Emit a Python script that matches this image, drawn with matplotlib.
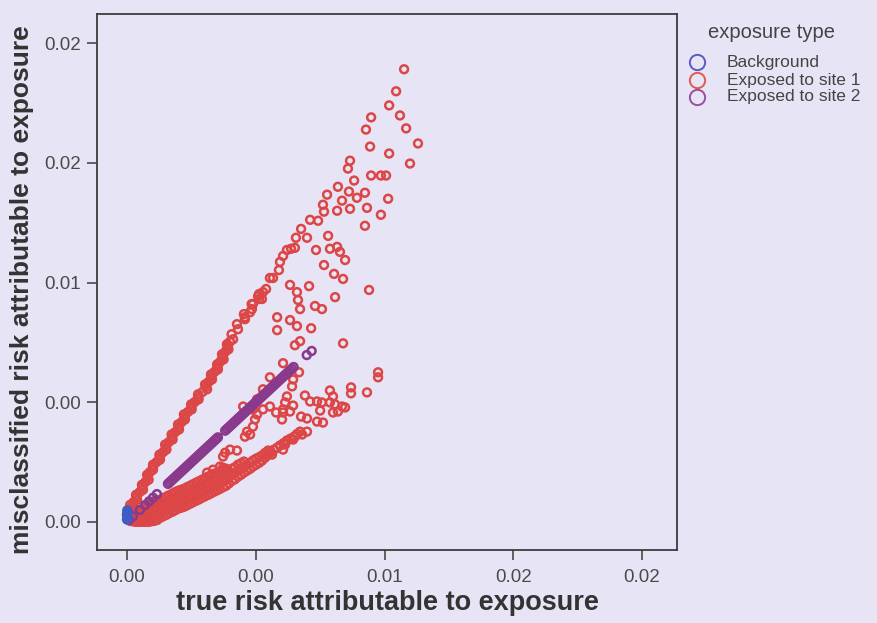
import matplotlib
matplotlib.use("Agg")
import matplotlib.pyplot as plt
from matplotlib.lines import Line2D

plt.rcParams["font.family"] = ["Liberation Sans", "DejaVu Sans"]

# Background: puntos en el origen
bg_true = [0.00000, 0.00001, 0.00000, 0.00002, 0.00001]
bg_mis = [0.00010, 0.00022, 0.00031, 0.00040, 0.00048]

# Exposed to site 1
site1_true = [
    # rama superior (densa)
    0.00000, 0.00021, 0.00012, 0.00039, 0.00035, 0.00062, 0.00058, 0.00084, 0.00078, 0.00101,
    0.00101, 0.00128, 0.00126, 0.00153, 0.00148, 0.00177, 0.00173, 0.00202, 0.00198, 0.00225,
    0.00221, 0.00251, 0.00249, 0.00278, 0.00276, 0.00311, 0.00303, 0.00330, 0.00326, 0.00353,
    0.00350, 0.00375, 0.00369, 0.00394, 0.00388, 0.00412, 0.00406, 0.00431, 0.00427, 0.00458,
    0.00454, 0.00485, 0.00484, 0.00513, 0.00513, 0.00540,
    0.00011, 0.00017, 0.00025, 0.00037, 0.00049, 0.00060, 0.00071, 0.00081, 0.00089, 0.00101,
    0.00115, 0.00127, 0.00140, 0.00151, 0.00162, 0.00175, 0.00187, 0.00200, 0.00212, 0.00223,
    0.00236, 0.00250, 0.00263, 0.00277, 0.00293, 0.00307, 0.00317, 0.00328, 0.00340, 0.00352,
    0.00362, 0.00372, 0.00382, 0.00391, 0.00400,
    # rama inferior (densa)
    0.00012, 0.00012, 0.00035, 0.00035, 0.00035, 0.00058, 0.00058, 0.00058,
    0.00082, 0.00082, 0.00082, 0.00082, 0.00105, 0.00105, 0.00105, 0.00105,
    0.00128, 0.00128, 0.00128, 0.00128, 0.00152, 0.00152, 0.00152, 0.00152,
    0.00175, 0.00175, 0.00175, 0.00175, 0.00198, 0.00198, 0.00198, 0.00198,
    0.00221, 0.00221, 0.00221, 0.00221, 0.00245, 0.00245, 0.00245, 0.00245,
    0.00268, 0.00268, 0.00268, 0.00268, 0.00291, 0.00291, 0.00291, 0.00291,
    0.00315, 0.00315, 0.00315, 0.00315, 0.00338, 0.00338, 0.00338, 0.00338,
    0.00361, 0.00361, 0.00361, 0.00361, 0.00385, 0.00385, 0.00385, 0.00385,
    0.00408, 0.00408, 0.00408, 0.00431, 0.00431, 0.00431, 0.00454, 0.00454, 0.00454,
    0.00478, 0.00478, 0.00501, 0.00501, 0.00524, 0.00524, 0.00548, 0.00548,
    0.00571, 0.00594, 0.00621, 0.00649, 0.00672,
    0.00023, 0.00023, 0.00023, 0.00047, 0.00047, 0.00047, 0.00070, 0.00070, 0.00070, 0.00070,
    0.00093, 0.00093, 0.00093, 0.00093, 0.00093, 0.00117, 0.00117, 0.00117, 0.00117, 0.00117,
    0.00140, 0.00140, 0.00140, 0.00140, 0.00163, 0.00163, 0.00163, 0.00163,
    0.00186, 0.00186, 0.00186, 0.00186, 0.00210, 0.00210, 0.00210, 0.00210,
    0.00233, 0.00233, 0.00233, 0.00233, 0.00256, 0.00256, 0.00256, 0.00256,
    0.00280, 0.00280, 0.00280, 0.00280, 0.00303, 0.00303, 0.00303, 0.00303,
    0.00326, 0.00326, 0.00326, 0.00326, 0.00350, 0.00350, 0.00350, 0.00350,
    0.00373, 0.00373, 0.00373, 0.00373, 0.00396, 0.00396, 0.00396,
    0.00419, 0.00419, 0.00419, 0.00443, 0.00443, 0.00443, 0.00466, 0.00466,
    0.00489, 0.00489, 0.00513, 0.00513, 0.00536, 0.00536, 0.00559, 0.00583,
    0.00608, 0.00635, 0.00660,
    # puntos dispersos
    0.01076, 0.01045, 0.01018, 0.01060, 0.01084, 0.01130, 0.00948, 0.00928, 0.00944, 0.01018,
    0.01099, 0.00866, 0.00858, 0.00882, 0.00948, 0.00986, 0.01006, 0.00819, 0.00777, 0.00862,
    0.00924, 0.00893, 0.00835, 0.01014, 0.00761, 0.00765, 0.00816, 0.00866, 0.00932, 0.00986,
    0.00711, 0.00742, 0.00924, 0.00676, 0.00656, 0.00699, 0.00781, 0.00621, 0.00637, 0.00652,
    0.00606, 0.00594, 0.00734, 0.00788, 0.00816, 0.00827, 0.00847, 0.00765, 0.00590, 0.00804,
    0.00839, 0.00555, 0.00567, 0.00633, 0.00707, 0.00940, 0.00660, 0.00664, 0.00672, 0.00808,
    0.00730, 0.00757, 0.00528, 0.00509, 0.00524, 0.00489, 0.00478, 0.00458, 0.00583, 0.00633,
    0.00660, 0.00715, 0.00583, 0.00672, 0.00652, 0.00839, 0.00606, 0.00975, 0.00975, 0.00870,
    0.00870, 0.00932, 0.00788, 0.00800, 0.00691, 0.00711, 0.00738, 0.00757, 0.00621, 0.00614,
    0.00645, 0.00788, 0.00808, 0.00835, 0.00847, 0.00819, 0.00800, 0.00750, 0.00676, 0.00699,
    0.00738, 0.00761, 0.00606, 0.00602, 0.00699, 0.00680, 0.00652, 0.00645, 0.00614, 0.00606,
    0.00645, 0.00641, 0.00668, 0.00555, 0.00528, 0.00505, 0.00555, 0.00528, 0.00505, 0.00489,
    0.00579, 0.00606, 0.00633, 0.00451, 0.00489, 0.00497, 0.00466, 0.00478, 0.00458, 0.00400,
    0.00427, 0.00381, 0.00373, 0.00563, 0.00361, 0.00334, 0.00311, 0.00373, 0.00388,
]
site1_mis = [
    0.00029, 0.00050, 0.00071, 0.00092, 0.00113, 0.00134, 0.00155, 0.00176, 0.00197, 0.00218,
    0.00239, 0.00260, 0.00281, 0.00302, 0.00323, 0.00344, 0.00365, 0.00386, 0.00407, 0.00428,
    0.00449, 0.00470, 0.00491, 0.00512, 0.00533, 0.00554, 0.00574, 0.00595, 0.00616, 0.00637,
    0.00658, 0.00679, 0.00700, 0.00721, 0.00742, 0.00763, 0.00784, 0.00805, 0.00826, 0.00847,
    0.00868, 0.00889, 0.00910, 0.00931, 0.00952, 0.00973,
    0.00040, 0.00061, 0.00082, 0.00103, 0.00124, 0.00145, 0.00166, 0.00187, 0.00208, 0.00229,
    0.00250, 0.00271, 0.00291, 0.00312, 0.00333, 0.00354, 0.00375, 0.00396, 0.00417, 0.00438,
    0.00459, 0.00480, 0.00501, 0.00522, 0.00543, 0.00564, 0.00585, 0.00606, 0.00627, 0.00648,
    0.00669, 0.00690, 0.00711, 0.00732, 0.00753,
    0.00004, 0.00029, 0.00000, 0.00025, 0.00050, 0.00000, 0.00025, 0.00050,
    0.00000, 0.00025, 0.00055, 0.00076, 0.00004, 0.00029, 0.00055, 0.00084,
    0.00017, 0.00042, 0.00067, 0.00092, 0.00029, 0.00055, 0.00080, 0.00105,
    0.00042, 0.00067, 0.00092, 0.00117, 0.00055, 0.00080, 0.00105, 0.00130,
    0.00063, 0.00088, 0.00113, 0.00138, 0.00076, 0.00101, 0.00126, 0.00151,
    0.00088, 0.00113, 0.00138, 0.00164, 0.00101, 0.00126, 0.00151, 0.00176,
    0.00113, 0.00138, 0.00164, 0.00189, 0.00126, 0.00151, 0.00176, 0.00201,
    0.00138, 0.00164, 0.00189, 0.00210, 0.00151, 0.00176, 0.00201, 0.00222,
    0.00172, 0.00197, 0.00222, 0.00189, 0.00214, 0.00239, 0.00206, 0.00231, 0.00252,
    0.00222, 0.00247, 0.00239, 0.00264, 0.00256, 0.00277, 0.00281, 0.00298,
    0.00302, 0.00319, 0.00340, 0.00356, 0.00377,
    0.00002, 0.00015, 0.00040, 0.00000, 0.00013, 0.00038, 0.00000, 0.00013, 0.00040, 0.00063,
    0.00002, 0.00015, 0.00042, 0.00069, 0.00082, 0.00008, 0.00023, 0.00048, 0.00074, 0.00090,
    0.00023, 0.00048, 0.00074, 0.00099, 0.00036, 0.00061, 0.00086, 0.00111,
    0.00048, 0.00074, 0.00099, 0.00124, 0.00059, 0.00084, 0.00109, 0.00134,
    0.00069, 0.00094, 0.00119, 0.00145, 0.00082, 0.00107, 0.00132, 0.00157,
    0.00094, 0.00119, 0.00145, 0.00170, 0.00107, 0.00132, 0.00157, 0.00182,
    0.00119, 0.00145, 0.00170, 0.00195, 0.00132, 0.00157, 0.00182, 0.00205,
    0.00145, 0.00170, 0.00195, 0.00216, 0.00161, 0.00186, 0.00211,
    0.00178, 0.00203, 0.00228, 0.00197, 0.00222, 0.00245, 0.00214, 0.00239,
    0.00231, 0.00256, 0.00247, 0.00270, 0.00268, 0.00288, 0.00291, 0.00310,
    0.00329, 0.00348, 0.00367,
    0.01891, 0.01799, 0.01740, 0.01698, 0.01644, 0.01581, 0.01690, 0.01639, 0.01568, 0.01539,
    0.01497, 0.01509, 0.01476, 0.01426, 0.01447, 0.01447, 0.01447, 0.01400, 0.01367, 0.01380,
    0.01375, 0.01354, 0.01342, 0.01350, 0.01325, 0.01296, 0.01300, 0.01308, 0.01312, 0.01283,
    0.01262, 0.01258, 0.01237, 0.01224, 0.01187, 0.01187, 0.01195, 0.01136, 0.01141, 0.01145,
    0.01111, 0.01086, 0.01136, 0.01141, 0.01149, 0.01128, 0.01094, 0.01073, 0.01052, 0.01036,
    0.01015, 0.01019, 0.01019, 0.00990, 0.00985, 0.00969, 0.00960, 0.00927, 0.00889, 0.00939,
    0.00902, 0.00889, 0.00960, 0.00943, 0.00931, 0.00910, 0.00876, 0.00855, 0.00855, 0.00843,
    0.00818, 0.00809, 0.00801, 0.00755, 0.00738, 0.00746, 0.00663, 0.00625, 0.00604, 0.00562,
    0.00537, 0.00541, 0.00549, 0.00524, 0.00528, 0.00503, 0.00503, 0.00499, 0.00524, 0.00499,
    0.00486, 0.00499, 0.00491, 0.00482, 0.00478, 0.00461, 0.00457, 0.00465, 0.00440, 0.00432,
    0.00419, 0.00415, 0.00470, 0.00428, 0.00377, 0.00365, 0.00356, 0.00344, 0.00323, 0.00302,
    0.00595, 0.00566, 0.00625, 0.00604, 0.00554, 0.00512, 0.00482, 0.00470, 0.00449, 0.00470,
    0.00457, 0.00457, 0.00461, 0.00482, 0.00398, 0.00428, 0.00377, 0.00365, 0.00356, 0.00302,
    0.00298, 0.00289, 0.00273, 0.00281, 0.00231, 0.00218, 0.00206, 0.00226, 0.00206,
]

# Exposed to site 2 (sobre la diagonal)
site2_true = [
    0.00008, 0.00023, 0.00050, 0.00070, 0.00086, 0.00101, 0.00116,
    0.00159, 0.00166, 0.00173, 0.00180, 0.00187, 0.00194, 0.00201, 0.00208, 0.00215, 0.00222,
    0.00229, 0.00236, 0.00243, 0.00250, 0.00257, 0.00264, 0.00271, 0.00278, 0.00285, 0.00292,
    0.00299, 0.00306, 0.00313, 0.00320, 0.00327, 0.00334, 0.00341, 0.00347, 0.00353,
    0.00381, 0.00388, 0.00395, 0.00402, 0.00409, 0.00416, 0.00423, 0.00430, 0.00437, 0.00444,
    0.00451, 0.00458, 0.00465, 0.00472, 0.00479, 0.00486, 0.00493, 0.00500, 0.00507, 0.00514,
    0.00521, 0.00528, 0.00535, 0.00542, 0.00549, 0.00556, 0.00563, 0.00570, 0.00577, 0.00584,
    0.00591, 0.00598, 0.00605, 0.00612, 0.00619, 0.00626, 0.00633, 0.00640, 0.00647,
    0.00698, 0.00717,
]
site2_mis = [
    0.00008, 0.00023, 0.00050, 0.00070, 0.00086, 0.00101, 0.00116,
    0.00159, 0.00166, 0.00173, 0.00180, 0.00187, 0.00194, 0.00201, 0.00208, 0.00215, 0.00222,
    0.00229, 0.00236, 0.00243, 0.00250, 0.00257, 0.00264, 0.00271, 0.00278, 0.00285, 0.00292,
    0.00299, 0.00306, 0.00313, 0.00320, 0.00327, 0.00334, 0.00341, 0.00347, 0.00353,
    0.00381, 0.00388, 0.00395, 0.00402, 0.00409, 0.00416, 0.00423, 0.00430, 0.00437, 0.00444,
    0.00451, 0.00458, 0.00465, 0.00472, 0.00479, 0.00486, 0.00493, 0.00500, 0.00507, 0.00514,
    0.00521, 0.00528, 0.00535, 0.00542, 0.00549, 0.00556, 0.00563, 0.00570, 0.00577, 0.00584,
    0.00591, 0.00598, 0.00605, 0.00612, 0.00619, 0.00626, 0.00633, 0.00640, 0.00647,
    0.00697, 0.00714,
]

ticks = [0, 0.005, 0.01, 0.015, 0.02]
tick_labels = ["0.00", "0.00", "0.01", "0.02", "0.02"]

groups = ["Background", "Exposed to site 1", "Exposed to site 2"]
colors = {"Background": "#3f5cc4", "Exposed to site 1": "#dc4646", "Exposed to site 2": "#8a3a8c"}
legend_colors = {"Background": "#5a5ac4", "Exposed to site 1": "#de5a52", "Exposed to site 2": "#9a4e9c"}

bg = "#e7e5f5"
fig = plt.figure(figsize=(8.78, 6.23), dpi=100, facecolor=bg)
ax = fig.add_axes([0.1105, 0.1172, 0.6606, 0.8604], facecolor=bg)

ax.scatter(site1_true, site1_mis, s=32, facecolors="none",
           edgecolors=colors["Exposed to site 1"], linewidths=1.8)
ax.scatter(site2_true, site2_mis, s=32, facecolors="none",
           edgecolors=colors["Exposed to site 2"], linewidths=1.8)
ax.scatter(bg_true, bg_mis, s=32, facecolors="none",
           edgecolors=colors["Background"], linewidths=1.8)

ax.set_xlim(-0.001165, 0.02136)
ax.set_ylim(-0.001174, 0.02122)
ax.set_xticks(ticks)
ax.set_xticklabels(tick_labels)
ax.set_yticks(ticks)
ax.set_yticklabels(tick_labels)
ax.tick_params(direction="out", length=7.5, width=1.3, color="#555555",
               labelcolor="#4a4a4a", labelsize=13.5, pad=4)
ax.tick_params(axis="x", pad=6)
for sp in ax.spines.values():
    sp.set_color("#3c3c3c")
    sp.set_linewidth(1.3)

ax.set_xlabel("true risk attributable to exposure", fontsize=19.5, fontweight="bold",
              color="#333333")
ax.set_ylabel("misclassified risk attributable to exposure", fontsize=19,
              fontweight="bold", color="#333333")
ax.xaxis.set_label_coords(0.5, -0.075)
ax.yaxis.set_label_coords(-0.108, 0.485)

# leyenda fuera del panel
W, H = 878, 623
fig.text(708 / W, 1 - 32 / H, "exposure type", fontsize=14.5, color="#444444",
         ha="left", va="center")
for g, ypx in zip(groups, [62, 80, 97]):
    fig.add_artist(Line2D([697 / W], [1 - ypx / H], transform=fig.transFigure,
                          ls="none", marker="o", ms=11, mfc="none", mew=1.4,
                          mec=legend_colors[g]))
    fig.text(727 / W, 1 - ypx / H, g, fontsize=12.5, color="#444444",
             ha="left", va="center")

fig.savefig("out.png", dpi=100, facecolor=bg)
